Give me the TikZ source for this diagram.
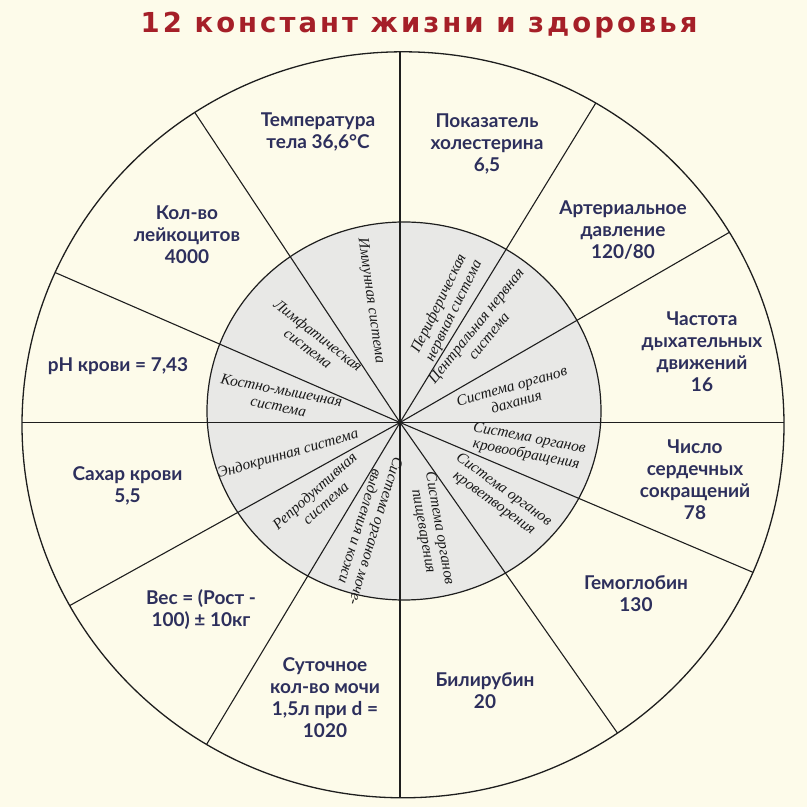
\documentclass[tikz,border=0pt]{standalone}
\usepackage{fontspec}
\setmainfont{Liberation Serif}
\newfontfamily\outerfont{Lato}
\newfontfamily\titlefont{DejaVu Sans}[LetterSpace=11]
\newfontfamily\innerfont{Liberation Serif}
\definecolor{bg}{HTML}{FDFBEA}
\definecolor{innerfill}{HTML}{E8E8E6}
\definecolor{navy}{HTML}{2D2F5C}
\definecolor{titlered}{HTML}{A51F28}
\definecolor{linec}{HTML}{1E1E1E}
\begin{document}
\begin{tikzpicture}[x=1pt,y=1pt,
  outertext/.style={font=\outerfont\bfseries\fontsize{19}{22}\selectfont, text=navy, align=center, inner sep=0pt},
  innertext/.style={font=\innerfont\itshape\fontsize{15.3}{16.5}\selectfont, text=black!90, align=center, inner sep=0pt},
  spoke/.style={draw=linec, line width=1.1pt}]
\useasboundingbox (0,0) rectangle (807,807);
\fill[bg] (0,0) rectangle (807,807);
\coordinate (O) at (400,384.5);
\coordinate (OC) at (403,382.2);
\coordinate (IC) at (404,396);
\fill[innerfill] (IC) ellipse [x radius=197, y radius=189];
\begin{scope}
  \clip (OC) ellipse [x radius=381, y radius=373];
  \foreach \a in {0,30,58.5,90,123.5,156.5,180,209,239,270,305,337}
    \draw[spoke] (O) -- ++(\a:520);
\end{scope}
\draw[linec, line width=1.3pt] (OC) ellipse [x radius=381, y radius=373];
\draw[linec, line width=1.2pt] (IC) ellipse [x radius=197, y radius=189];

\node[anchor=base, font=\titlefont\bfseries\fontsize{27.5}{30}\selectfont, text=titlered] (title) at (419,774) {12 констант жизни и здоровья};

\node[outertext] (t1) at (318,675) {Температура\\тела 36,6°C};
\node[outertext] (t2) at (487,663) {Показатель\\холестерина\\6,5};
\node[outertext] (t3) at (623,577) {Артериальное\\давление\\120/80};
\node[outertext] (t4) at (187,572) {Кол-во\\лейкоцитов\\4000};
\node[outertext] (t5) at (118,441) {рН крови = 7,43};
\node[outertext] (t6) at (127.5,321) {Сахар крови\\5,5};
\node[outertext] (t7) at (702,455) {Частота\\дыхательных\\движений\\16};
\node[outertext] (t8) at (695,327) {Число\\сердечных\\сокращений\\78};
\node[outertext] (t9) at (636,213) {Гемоглобин\\130};
\node[outertext] (t10) at (485,116) {Билирубин\\20};
\node[outertext] (t11) at (325,109) {Суточное\\кол-во мочи\\1,5л при d =\\1020};
\node[outertext] (t12) at (201,197) {Вес = (Рост -\\100) ± 10кг};

\node[innertext, rotate=-82] (s1) at (370.7,506.3) {Иммунная система};
\node[innertext, rotate=-38] (s2) at (313.3,465.3) {Лимфатическая\\система};
\node[innertext, rotate=-11] (s3) at (280,408.7) {Костно-мышечная\\система};
\node[innertext, rotate=64] (s4) at (446.7,499.7) {Периферическая\\нервная система};
\node[innertext, rotate=51] (s5) at (482.3,476.3) {Центральная нервная\\система};
\node[innertext, rotate=16] (s6) at (514,413) {Система органов\\дахания};
\node[innertext, rotate=-11] (s7) at (527.7,360.3) {Система органов\\кровообращения};
\node[innertext, rotate=-36] (s8) at (498.7,310.3) {Система органов\\кроветворения};
\node[innertext, rotate=-80] (s9) at (431,277) {Система органов\\пищеварения};
\node[innertext, rotate=-107] (s10) at (368.3,278) {Система органов моче-\\выделения и кожи};
\node[innertext, rotate=42] (s11) at (320,310.3) {Репродуктивная\\система};
\node[innertext, rotate=16] (s12) at (288.3,352.7) {Эндокринная система};
\end{tikzpicture}
\end{document}
